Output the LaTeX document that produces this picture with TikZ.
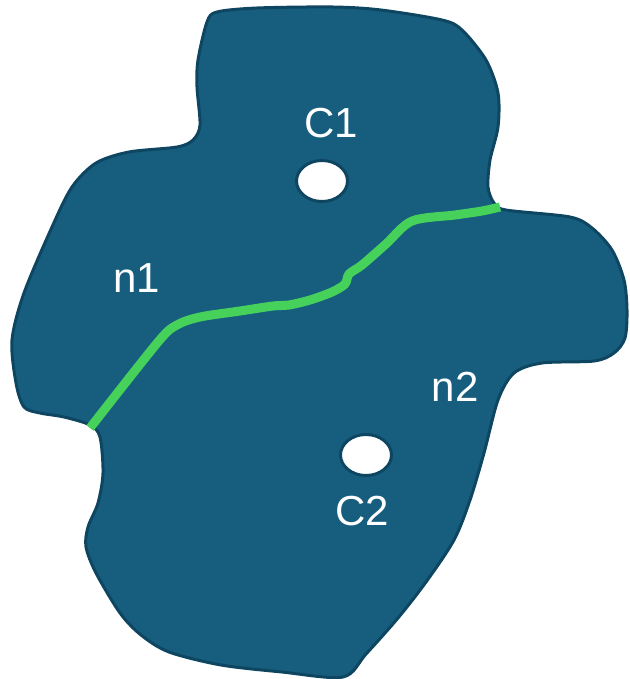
\documentclass[tikz,border=0pt]{standalone}
\usepackage{fontspec}
\setmainfont{Liberation Sans}
\usetikzlibrary{shapes.geometric}
\definecolor{regionfill}{RGB}{23,94,126}
\definecolor{regionedge}{RGB}{14,70,98}
\definecolor{cutgreen}{RGB}{70,210,90}
\tikzset{
  region/.style={fill=regionfill, draw=regionedge, line width=3pt, line join=round},
  hole/.style={ellipse, fill=white, draw=regionedge, line width=3pt, minimum width=51pt, minimum height=41pt, inner sep=0pt},
  lbl/.style={text=white, font=\fontsize{42}{50}\selectfont, inner sep=0pt},
  cut/.style={draw=cutgreen, line width=9pt, line join=round}
}
\begin{document}
\begin{tikzpicture}[x=1pt, y=-1pt]
  \useasboundingbox (0,0) rectangle (629,679);
  % outline of the domain
  \draw[region] plot[smooth cycle, tension=0.5] coordinates {
    (217,12) (257,8) (333,7) (381,10) (442,20) (462,30) (486,60) (498,93)
    (498,127) (490,160) (488,187) (494,203) (506,210) (570,217) (592,228)
    (612,250) (624,280) (627,310) (625,338) (614,353) (594,361) (542,363)
    (514,373) (498,400) (484,453) (470,500) (454,540) (426,582) (398,618)
    (366,654) (343,677) (282,672) (221,665) (169,652) (141,635) (120,613)
    (96,573) (86,547)
    (88,527) (98,503) (103,473) (100,437) (90,425) (64,417) (40,413)
    (24,407) (16,383) (12,340) (24,293) (52,227) (72,187) (96,163)
    (129,152) (177,147) (193,140) (200,125) (197,87) (198,60) (207,22)};
  % interface between the two subdomains
  \draw[cut] plot[smooth, tension=0.5] coordinates {
    (500,207) (482,211) (455,215) (412,221) (386,244) (362,265)
    (349,274) (345,284) (332,292) (310,300) (289,305) (273,306)
    (240,311) (200,317) (177,325) (158,342) (90,428)};
  % holes
  \node[hole] (h1) at (322,181) {};
  \node[hole] (h2) at (366,455) {};
  % labels
  \node[lbl] (c1) at (331,123) {C1};
  \node[lbl] (c2) at (362,511) {C2};
  \node[lbl] (n1) at (137,278) {n1};
  \node[lbl] (n2) at (455,387) {n2};
\end{tikzpicture}
\end{document}
